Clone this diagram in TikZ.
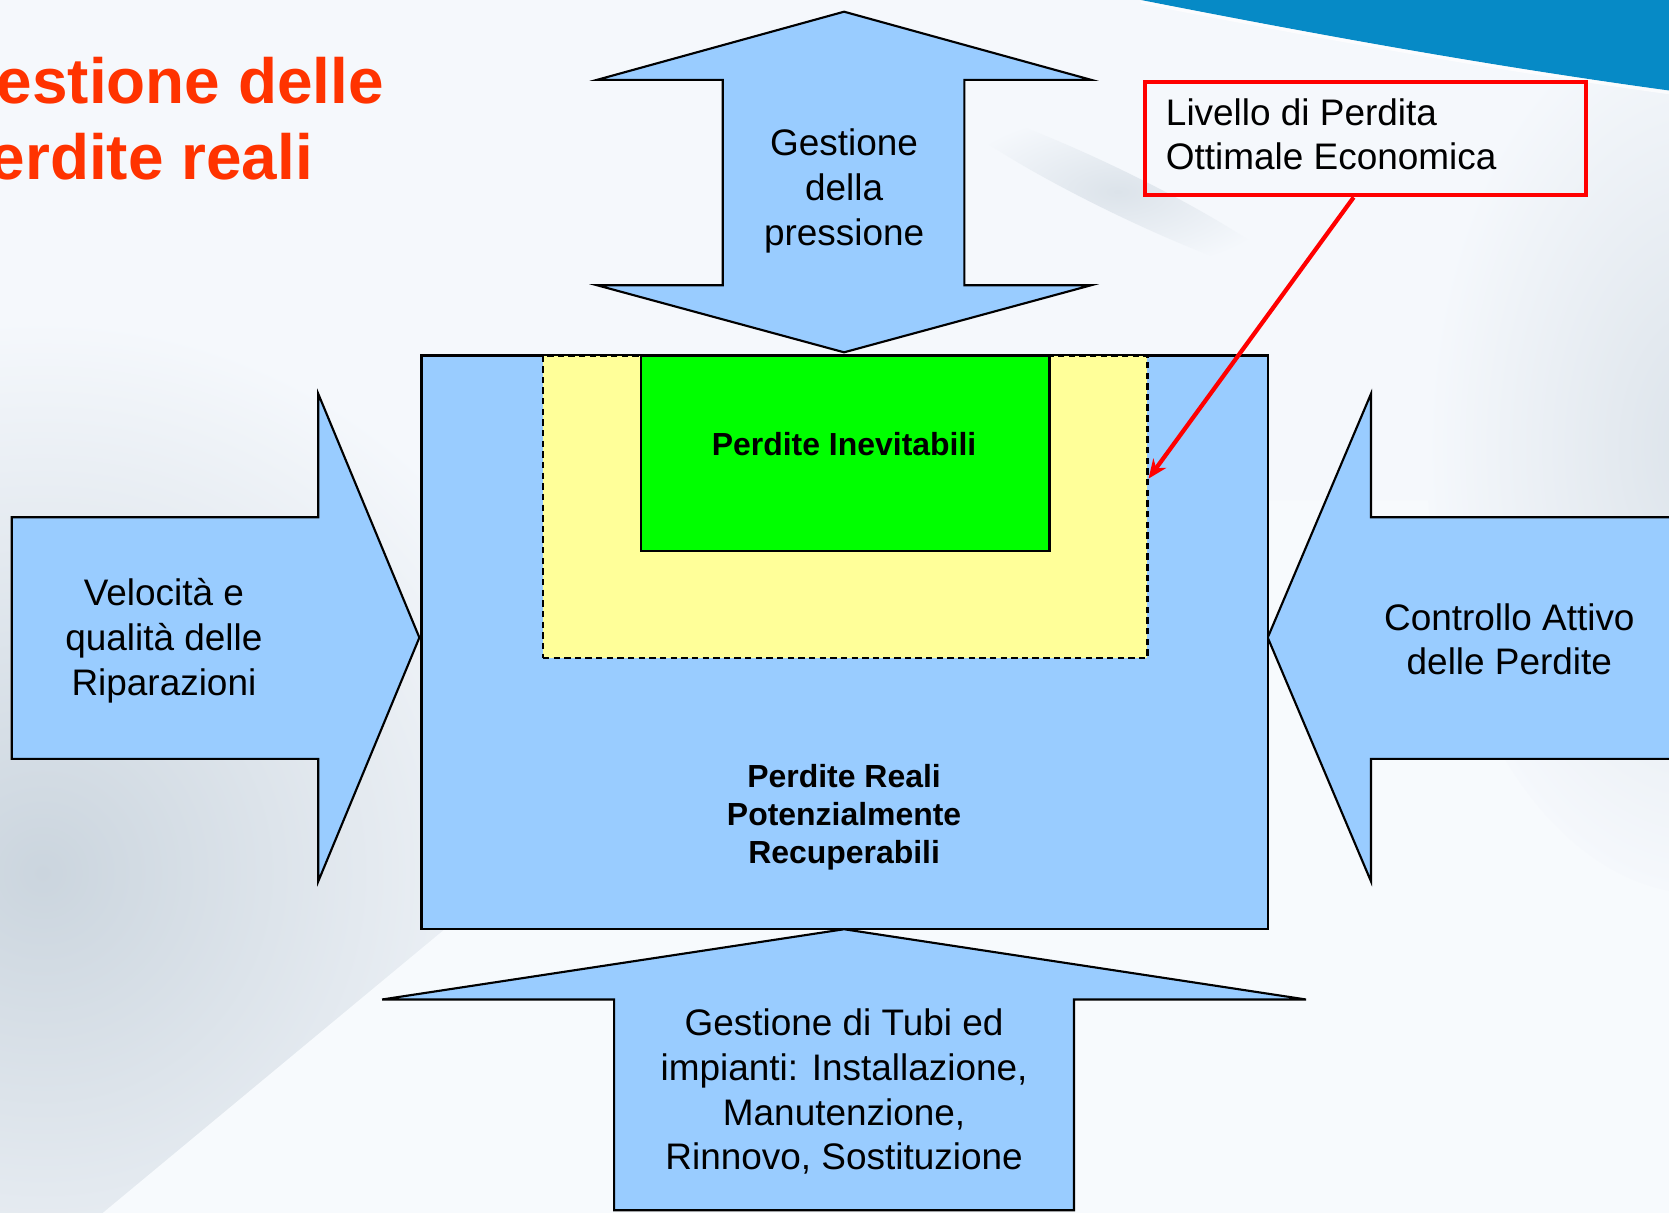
\documentclass[tikz,border=0pt]{standalone}
\usepackage{fontspec}
\setmainfont{Liberation Sans}
\usetikzlibrary{calc,arrows.meta}
\definecolor{bg}{HTML}{F5F8FC}
\definecolor{bgwhite}{HTML}{F7FAFD}
\definecolor{shapeblue}{HTML}{99CCFF}
\definecolor{lossyellow}{HTML}{FFFF99}
\definecolor{lossgreen}{HTML}{00FF00}
\definecolor{titlered}{HTML}{FF3300}
\definecolor{bandblue}{RGB}{6,138,198}
\definecolor{greyblue}{HTML}{CBD5DE}
\begin{document}
\begin{tikzpicture}[x=0.5pt,y=-0.5pt,
  blockarrow/.style={draw=black, line width=1pt, fill=shapeblue, line join=miter},
  boxshape/.style={draw=black, line width=1pt, inner sep=0pt, anchor=north west},
  bodytext/.style={font=\fontsize{17.35pt}{21pt}\selectfont, align=center, inner sep=0pt, anchor=base},
  boldtext/.style={font=\fontsize{15pt}{18pt}\selectfont\bfseries, align=center, inner sep=0pt, anchor=base},
  titletext/.style={font=\fontsize{30pt}{36pt}\selectfont\bfseries, text=titlered, align=left, inner sep=0pt, anchor=base west},
  calloutarrow/.style={draw=red, line width=2pt, -{Stealth[length=9pt,width=7.5pt]}}
]
\useasboundingbox (0,0) rectangle (1568,1139);
\clip (0,0) rectangle (1568,1139);
% background
\fill[bg] (0,0) rectangle (1568,1139);
\shade[inner color=greyblue, outer color=bg] (40,820) ellipse (520 and 520);
\fill[bgwhite] (90,1145) -- (413,877) -- (900,470) -- (1568,470) -- (1568,1145) -- cycle;
\shade[inner color=greyblue!60!bg, outer color=bg] (1600,420) ellipse (260 and 420);
\shade[inner color=greyblue!60!bg, outer color=bg, rotate around={-26:(1050,180)}] (1050,180) ellipse (170 and 20);
\fill[bandblue] (1072,0) .. controls (1240,33) and (1400,62) .. (1568,85) -- (1568,0) -- cycle;
\draw[white, opacity=0.7, line width=1.5pt] (1072,2) .. controls (1240,35) and (1400,64) .. (1568,87);

% title (anchor = baseline of last line)
\node[titletext] (title) at (-50,169) {Gestione delle\\Perdite reali};

% block arrows
\draw[blockarrow] (793,11) -- (1025,75) -- (906,75) -- (906,268) -- (1025,268) -- (793,331)
  -- (561,268) -- (679,268) -- (679,75) -- (561,75) -- cycle;
\draw[blockarrow] (11,486) -- (299,486) -- (299,370) -- (394,599) -- (299,828) -- (299,713) -- (11,713) -- cycle;
\draw[blockarrow] (1600,486) -- (1288,486) -- (1288,370) -- (1191,599) -- (1288,828) -- (1288,713) -- (1600,713) -- cycle;
\draw[blockarrow] (793,873) -- (1227,939) -- (1009,939) -- (1009,1137) -- (577,1137) -- (577,939) -- (359,939) -- cycle;

% boxes
\node[boxshape, fill=shapeblue, minimum width=397.5pt, minimum height=269.5pt] (main) at (395,333) {};
\node[boxshape, fill=lossyellow, dash pattern=on 3pt off 2pt, minimum width=284pt, minimum height=142pt] (optimal) at (509,333) {};
\node[boxshape, fill=lossgreen, minimum width=192pt, minimum height=92pt] (unavoid) at (601,333) {};
\node[draw=red, line width=2pt, inner sep=0pt, anchor=north west, minimum width=207pt, minimum height=53.2pt] (redbox) at (1074,75) {};

% texts (anchor = baseline of last line)
\node[bodytext] (pressure) at (793,230.5) {Gestione\\della\\pressione};
\node[bodytext] (repairs) at (154,653) {Velocità e\\qualità delle\\Riparazioni};
\node[bodytext] (alc) at (1418,634) {Controllo Attivo\\delle Perdite};
\node[bodytext] (assets) at (793,1099) {Gestione di Tubi ed\\impianti: Installazione,\\Manutenzione,\\Rinnovo, Sostituzione};
\node[boldtext] (unavoidlbl) at (793,427.5) {Perdite Inevitabili};
\node[boldtext] (mainlbl) at (793,811.7) {Perdite Reali\\Potenzialmente\\Recuperabili};
\node[bodytext, anchor=base west, align=left] (redlbl) at (1095,159.7) {Livello di Perdita\\Ottimale Economica};

% callout connector
\coordinate (optTip) at ($(optimal.north east)!0.408!(optimal.south east)$);
\draw[calloutarrow] ($(redbox.south west)!0.473!(redbox.south east)$) -- (optTip);
\end{tikzpicture}
\end{document}
